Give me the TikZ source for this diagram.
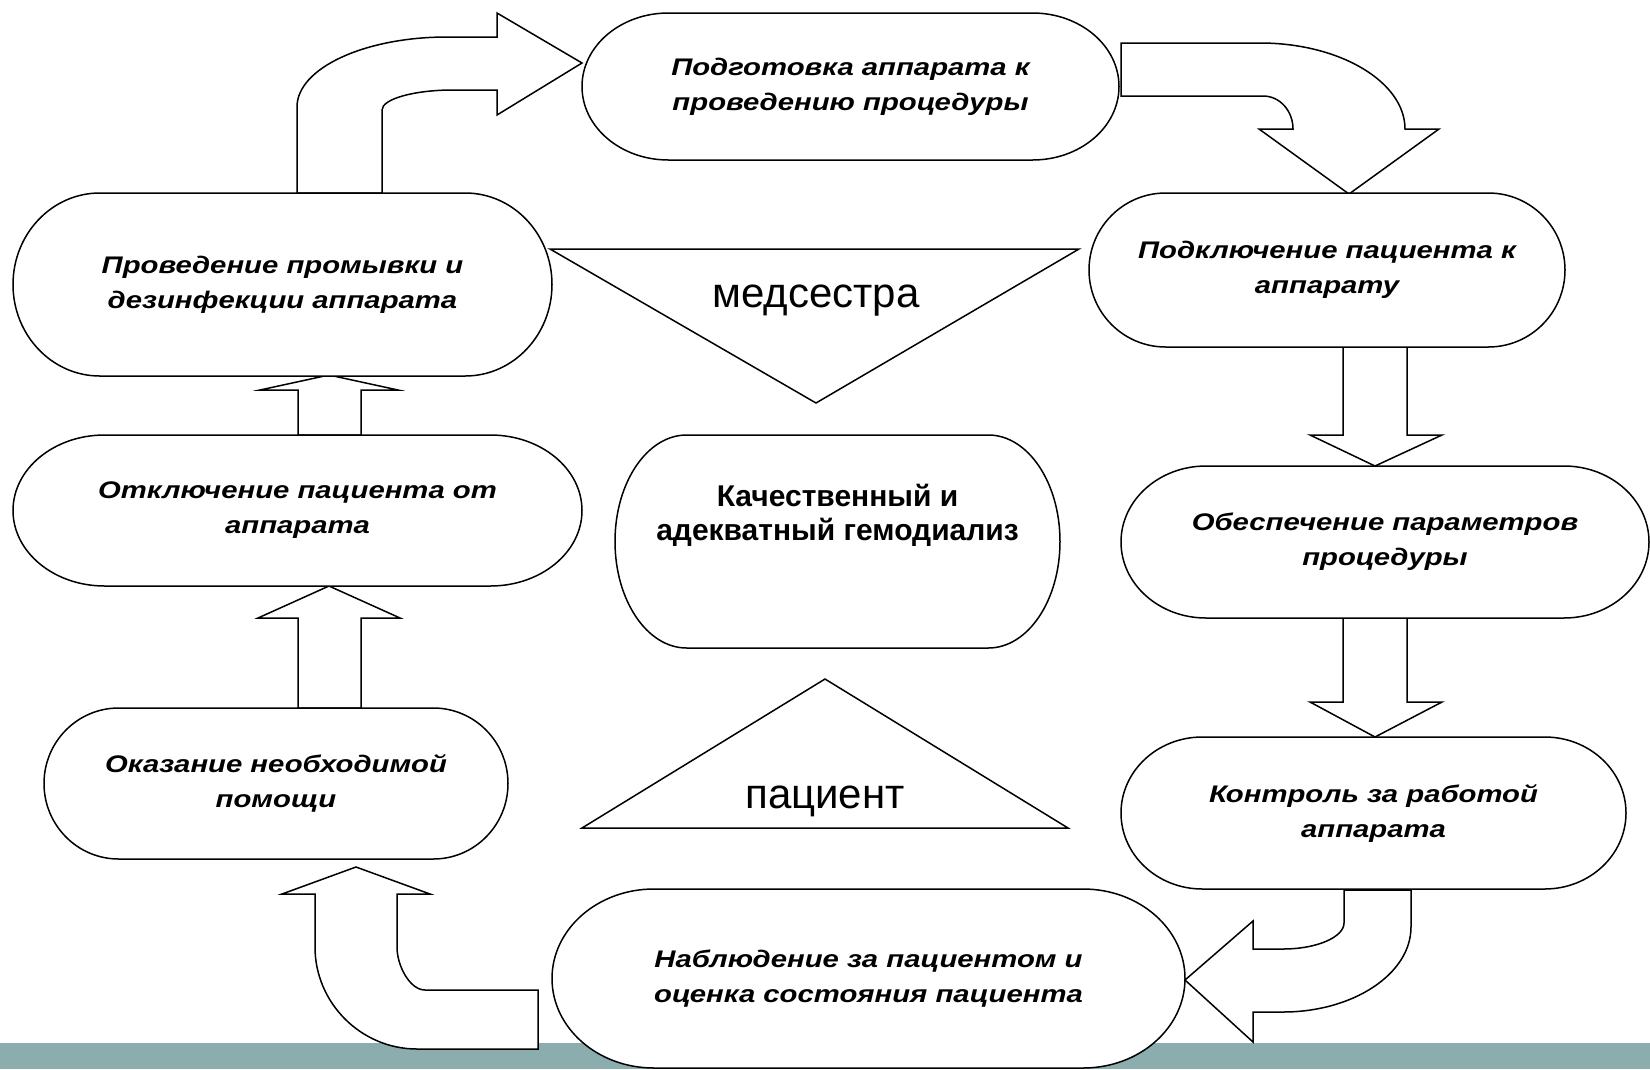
\documentclass[tikz,border=0pt]{standalone}
\usepackage{fontspec}
\setmainfont{Liberation Sans}
\newfontfamily\stagefont{Liberation Sans}[FakeStretch=1.22]
\usepackage{tikz}
\usetikzlibrary{calc}
\definecolor{leiste}{RGB}{139,173,173}
\tikzstyle{outline} = [line width=1.5pt,draw=black,fill=white]
\tikzstyle{blockarrow} = [line width=1.5pt,draw=black,fill=white,line join=miter]
\tikzstyle{stagetext} = [draw=none,align=center,inner sep=0pt,font=\stagefont\bfseries\itshape\fontsize{24}{35}\selectfont]
\tikzstyle{goaltext} = [draw=none,align=center,inner sep=0pt,font=\bfseries\fontsize{30}{34}\selectfont]
\tikzstyle{role} = [font=\fontsize{42}{46}\selectfont]
\newcommand{\stage}[7][stagetext]{%
  \pgfmathsetmacro{\rx}{0.161*#5}%
  \pgfmathsetmacro{\xl}{#3-#5/2}\pgfmathsetmacro{\xr}{#3+#5/2}%
  \pgfmathsetmacro{\yt}{#4-#6/2}\pgfmathsetmacro{\yb}{#4+#6/2}%
  \pgfmathsetmacro{\kx}{0.5523*\rx}\pgfmathsetmacro{\ky}{0.5523*#6/2}%
  \draw[outline] (\xl+\rx,\yt) -- (\xr-\rx,\yt)
    .. controls (\xr-\rx+\kx,\yt) and (\xr,#4-\ky) .. (\xr,#4)
    .. controls (\xr,#4+\ky) and (\xr-\rx+\kx,\yb) .. (\xr-\rx,\yb)
    -- (\xl+\rx,\yb)
    .. controls (\xl+\rx-\kx,\yb) and (\xl,#4+\ky) .. (\xl,#4)
    .. controls (\xl,#4-\ky) and (\xl+\rx-\kx,\yt) .. (\xl+\rx,\yt) -- cycle;
  \node[#1,minimum width=#5,minimum height=#6] (#2) at (#3,#4) {#7};
}

\begin{document}
\begin{tikzpicture}[x=1pt,y=-1pt]
\useasboundingbox (0,0) rectangle (1650,1069);
\fill[leiste] (0,1043) rectangle (1650,1069);

\draw[blockarrow] (297,193) -- (297,107) .. controls (297,68) and (365,37) .. (447,37) -- (497,37) -- (497,13) -- (582,63) -- (497,115) -- (497,90) -- (453,90) .. controls (414,90) and (382,99) .. (382,110) -- (382,193) -- cycle;
\draw[blockarrow] (1121,43) -- (1260,43) .. controls (1340,43) and (1405,82) .. (1405,129) -- (1439,129) -- (1349,194) -- (1259,129) -- (1293,129) .. controls (1293,111) and (1280,96) .. (1263,96) -- (1121,96) -- cycle;
\draw[blockarrow] (1343,347) -- (1343,435) -- (1310,435) -- (1375,466) -- (1442,435) -- (1407,435) -- (1407,347) -- cycle;
\draw[blockarrow] (1343,618) -- (1343,702) -- (1310,702) -- (1375,737) -- (1442,702) -- (1407,702) -- (1407,618) -- cycle;
\draw[blockarrow] (1344,890) -- (1344,923) .. controls (1344,937) and (1317,949) .. (1283,949) -- (1253,949) -- (1253,921) -- (1185,980) -- (1253,1042) -- (1253,1012) -- (1283,1012) .. controls (1353,1012) and (1411,974) .. (1411,927) -- (1411,890) -- cycle;
\draw[blockarrow] (538,990) -- (425,990) .. controls (410,990) and (397,966) .. (397,947) -- (397,894) -- (430,894) -- (356,867) -- (282,894) -- (315,894) -- (315,947) .. controls (315,1003) and (361,1049) .. (417,1049) -- (538,1049) -- cycle;
\draw[blockarrow] (298,708) -- (298,618) -- (258,618) -- (329,586) -- (400,618) -- (361,618) -- (361,708) -- cycle;
\draw[blockarrow] (298,435) -- (298,390) -- (260,390) -- (329,375) -- (398,390) -- (361,390) -- (361,435) -- cycle;

\stage{S1}{850.5}{86.5}{537}{147}{Подготовка аппарата к\\проведению процедуры}
\stage{S2}{1327}{270}{476}{154}{Подключение пациента к\\аппарату}
\stage{S3}{1385}{542}{528}{152}{Обеспечение параметров\\процедуры}
\stage{S4}{1373.5}{813}{505}{152}{Контроль за работой\\аппарата}
\stage{S5}{868.5}{978.5}{633}{179}{Наблюдение за пациентом и\\оценка состояния пациента}
\stage{S6}{276}{783.5}{464}{151}{Оказание необходимой\\помощи}
\stage{S7}{297.5}{510.5}{569}{151}{Отключение пациента от\\аппарата}
\stage{S8}{282.5}{284.5}{539}{183}{Проведение промывки и\\дезинфекции аппарата}
\stage[goaltext,yshift=26pt,minimum height=0pt]{G}{837.5}{541.5}{445}{213}{Качественный и\\адекватный гемодиализ}

\draw[outline] (550,249) -- (1079,249) -- (816,403) -- cycle;
\node[role,anchor=base] (N) at (816,307) {медсестра};
\draw[outline] (582,828) -- (1068,828) -- (825,679) -- cycle;
\node[role,anchor=base] (P) at (825,808) {пациент};
\end{tikzpicture}
\end{document}
